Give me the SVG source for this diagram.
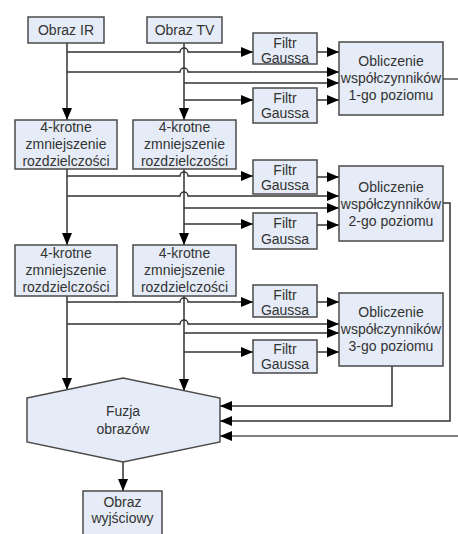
<svg xmlns="http://www.w3.org/2000/svg" width="458" height="534" viewBox="0 0 458 534">
<defs>
<marker id="ah" markerUnits="userSpaceOnUse" markerWidth="13" markerHeight="11" refX="12" refY="5" orient="auto">
<path d="M0,0 L12,5 L0,10 z" fill="#000"/>
</marker>
</defs>
<style>
.box{fill:#e6ecf7;stroke:#4a4a4a;stroke-width:1.5}
.t{font-family:"Liberation Sans",Arial,sans-serif;font-size:14px;fill:#333;text-anchor:middle}
.c{fill:none;stroke:#333;stroke-width:1.5}
.g{fill:none;stroke:#808080;stroke-width:2}
</style>
<rect width="458" height="534" fill="#fff"/>

<g id="connectors">
<path class="c" d="M67,43 V120" marker-end="url(#ah)"/>
<path class="c" d="M184,43 V120" marker-end="url(#ah)"/>
<path class="c" d="M67,169 V245" marker-end="url(#ah)"/>
<path class="c" d="M184,169 V245" marker-end="url(#ah)"/>
<path class="c" d="M67,296 V390" marker-end="url(#ah)"/>
<path class="c" d="M184,296 V391" marker-end="url(#ah)"/>
<path class="c" d="M67,52 H180 A4,4 0 0 1 188,52 H253" marker-end="url(#ah)"/>
<path class="c" d="M317,52 H339" marker-end="url(#ah)"/>
<path class="c" d="M67,72 H180 A4,4 0 0 1 188,72 H339" marker-end="url(#ah)"/>
<path class="c" d="M184,83 H339" marker-end="url(#ah)"/>
<path class="c" d="M184,100 H253" marker-end="url(#ah)"/>
<path class="c" d="M317,100 H339" marker-end="url(#ah)"/>
<path class="g" d="M443,79 H458"/>
<path class="c" d="M67,176 H180 A4,4 0 0 1 188,176 H253" marker-end="url(#ah)"/>
<path class="c" d="M317,177 H339" marker-end="url(#ah)"/>
<path class="c" d="M67,196 H180 A4,4 0 0 1 188,196 H339" marker-end="url(#ah)"/>
<path class="c" d="M184,208 H339" marker-end="url(#ah)"/>
<path class="c" d="M184,224 H253" marker-end="url(#ah)"/>
<path class="c" d="M317,225 H339" marker-end="url(#ah)"/>
<path class="c" d="M443,203 H450 V421 H220" marker-end="url(#ah)"/>
<path class="c" d="M67,302 H180 A4,4 0 0 1 188,302 H253" marker-end="url(#ah)"/>
<path class="c" d="M317,302 H339" marker-end="url(#ah)"/>
<path class="c" d="M67,324 H180 A4,4 0 0 1 188,324 H339" marker-end="url(#ah)"/>
<path class="c" d="M184,333 H339" marker-end="url(#ah)"/>
<path class="c" d="M184,352 H253" marker-end="url(#ah)"/>
<path class="c" d="M317,352 H339" marker-end="url(#ah)"/>
<path class="c" d="M392,366 V406 H220" marker-end="url(#ah)"/>
<path class="g" d="M458,436 H220" marker-end="url(#ah)"/>
<path class="c" d="M123,462 V491" marker-end="url(#ah)"/>
</g>

<g id="obraz-ir"><rect class="box" x="28" y="17" width="76" height="26"/><text class="t" x="66" y="35">Obraz IR</text></g>
<g id="obraz-tv"><rect class="box" x="147" y="17" width="75" height="26"/><text class="t" x="184.5" y="35">Obraz TV</text></g>

<g id="red-ir-1"><rect class="box" x="15" y="120" width="102" height="49"/><text class="t" x="66" y="132">4-krotne</text><text class="t" x="66" y="149">zmniejszenie</text><text class="t" x="66" y="166">rozdzielczości</text></g>
<g id="red-tv-1"><rect class="box" x="133" y="120" width="103" height="49"/><text class="t" x="184.5" y="132">4-krotne</text><text class="t" x="184.5" y="149">zmniejszenie</text><text class="t" x="184.5" y="166">rozdzielczości</text></g>
<g id="red-ir-2"><rect class="box" x="15" y="245" width="102" height="51"/><text class="t" x="66" y="258">4-krotne</text><text class="t" x="66" y="275">zmniejszenie</text><text class="t" x="66" y="292">rozdzielczości</text></g>
<g id="red-tv-2"><rect class="box" x="133" y="245" width="103" height="51"/><text class="t" x="184.5" y="258">4-krotne</text><text class="t" x="184.5" y="275">zmniejszenie</text><text class="t" x="184.5" y="292">rozdzielczości</text></g>

<g id="filtr-1"><rect class="box" x="253" y="33" width="64" height="31"/><text class="t" x="285" y="48">Filtr</text><text class="t" x="285" y="63">Gaussa</text></g>
<g id="filtr-2"><rect class="box" x="253" y="88" width="64" height="35"/><text class="t" x="285" y="103">Filtr</text><text class="t" x="285" y="118">Gaussa</text></g>
<g id="filtr-3"><rect class="box" x="253" y="160" width="64" height="34"/><text class="t" x="285" y="175">Filtr</text><text class="t" x="285" y="190">Gaussa</text></g>
<g id="filtr-4"><rect class="box" x="253" y="213" width="64" height="36"/><text class="t" x="285" y="228">Filtr</text><text class="t" x="285" y="244">Gaussa</text></g>
<g id="filtr-5"><rect class="box" x="253" y="285" width="64" height="32"/><text class="t" x="285" y="300">Filtr</text><text class="t" x="285" y="315">Gaussa</text></g>
<g id="filtr-6"><rect class="box" x="253" y="340" width="64" height="33"/><text class="t" x="285" y="354">Filtr</text><text class="t" x="285" y="369">Gaussa</text></g>

<g id="oblicz-1"><rect class="box" x="339" y="42" width="104" height="73"/><text class="t" x="391" y="66">Obliczenie</text><text class="t" x="391" y="83">współczynników</text><text class="t" x="391" y="100">1-go poziomu</text></g>
<g id="oblicz-2"><rect class="box" x="339" y="166" width="104" height="75"/><text class="t" x="391" y="192">Obliczenie</text><text class="t" x="391" y="209">współczynników</text><text class="t" x="391" y="226">2-go poziomu</text></g>
<g id="oblicz-3"><rect class="box" x="339" y="293" width="104" height="73"/><text class="t" x="391" y="317">Obliczenie</text><text class="t" x="391" y="334">współczynników</text><text class="t" x="391" y="351">3-go poziomu</text></g>

<g id="fuzja"><polygon class="box" points="27,398 123,378 220,398 220,442 123,462 27,442"/><text class="t" x="123" y="416">Fuzja</text><text class="t" x="123" y="434">obrazów</text></g>

<g id="obraz-wyj"><rect class="box" x="83" y="491" width="79" height="50"/><text class="t" x="122.5" y="507">Obraz</text><text class="t" x="122.5" y="523">wyjściowy</text></g>
</svg>
